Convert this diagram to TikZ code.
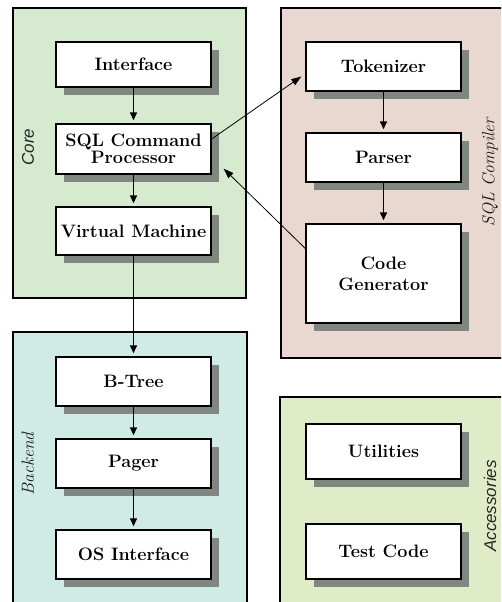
\documentclass[tikz,border=0pt]{standalone}
\usepackage{fontspec}
\usepackage{tikz}
\usetikzlibrary{shadows,arrows.meta}
\newfontfamily\tagsans{Liberation Sans}

\definecolor{coregreen}{HTML}{D6EAD0}
\definecolor{compilerpink}{HTML}{E8D8D0}
\definecolor{backendcyan}{HTML}{D0EAE6}
\definecolor{accessgreen}{HTML}{E0ECC8}
\definecolor{boxshadow}{HTML}{7F8780}

\begin{document}
\begin{tikzpicture}[x=1pt,y=-1pt,
	block/.style={draw, line width=1.4pt, fill=white, minimum width=155pt, inner sep=2pt, align=center,
		font=\fontsize{18}{19}\selectfont\bfseries,
		drop shadow={shadow xshift=8pt, shadow yshift=-8pt, fill=boxshadow, opacity=1}},
	group/.style={draw, line width=1.2pt},
	flow/.style={-{Triangle[length=8pt,width=7pt]}, line width=1.4pt, shorten >=3pt},
	link/.style={-{Triangle[length=10pt,width=7pt]}, line width=0.8pt},
	sanstag/.style={rotate=90, text=black!85, font=\tagsans\itshape\fontsize{17}{19}\selectfont},
	serftag/.style={rotate=90, text=black!90, font=\itshape\fontsize{17.5}{19}\selectfont}]
	\useasboundingbox (0,0) rectangle (501,602);
	\clip (0,0) rectangle (501,602);

	% groups
	\filldraw [group, fill=coregreen] (13,8) rectangle (246,298);
	\filldraw [group, fill=compilerpink] (281,8) rectangle (515,358);
	\filldraw [group, fill=backendcyan] (13,332) rectangle (247,615);
	\filldraw [group, fill=accessgreen] (280,397) rectangle (515,615);

	\node [sanstag] (coretag) at (28,147) {Core};
	\node [serftag] (compilertag) at (490,172) {SQL Compiler};
	\node [serftag] (backendtag) at (28,464) {Backend};
	\node [sanstag] (accesstag) at (490,506) {Accessories};

	% blocks
	\node [block, minimum height=45pt] (iface) at (133.5,64.5) {Interface};
	\node [block, minimum height=50pt] (sqlcmd) at (133.5,149) {SQL Command\\[-2pt]Processor};
	\node [block, minimum height=48pt] (vm) at (133.5,231) {Virtual Machine};

	\node [block, minimum height=49pt] (tok) at (383.5,66.5) {Tokenizer};
	\node [block, minimum height=49pt] (parser) at (383.5,157.5) {Parser};
	\node [block, minimum height=99pt] (codegen) at (383.5,273.5) {Code\\[2pt]Generator};

	\node [block, minimum height=49pt] (btree) at (133.5,381.5) {B-Tree};
	\node [block, minimum height=49pt] (pager) at (133.5,463.5) {Pager};
	\node [block, minimum height=49pt] (osif) at (133.5,554.5) {OS Interface};

	\node [block, minimum height=55pt] (utils) at (383.5,451.5) {Utilities};
	\node [block, minimum height=55pt] (testcode) at (383.5,551.5) {Test Code};

	% arrows
	\draw [flow] (iface) -- (sqlcmd);
	\draw [flow] (sqlcmd) -- (vm);
	\draw [flow] (vm) -- (btree);
	\draw [flow] (btree) -- (pager);
	\draw [flow] (pager) -- (osif);
	\draw [flow] (tok) -- (parser);
	\draw [flow] (parser) -- (codegen);

	\draw [link] ([yshift=10pt]sqlcmd.east) -- ([xshift=-4pt,yshift=-10pt]tok.west);
	\draw [link] ([yshift=25pt]codegen.west) -- ([xshift=12pt,yshift=6pt]sqlcmd.south east);
\end{tikzpicture}
\end{document}
